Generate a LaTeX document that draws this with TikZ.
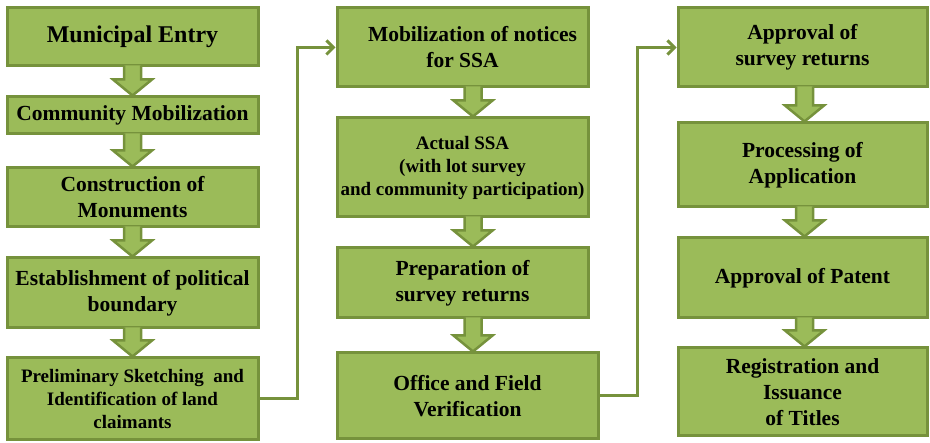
\documentclass[tikz,border=0pt]{standalone}
\usepackage{fontspec}
\setmainfont{Liberation Serif}
\usetikzlibrary{calc,arrows.meta}
\definecolor{fillg}{HTML}{9BBB59}
\definecolor{bord}{HTML}{76923C}
\tikzset{
  stagebox/.style={draw=bord, line width=3pt, fill=fillg, align=center, inner sep=2pt,
    font=\bfseries\fontsize{21.5}{26}\selectfont},
  smalltext/.style={font=\bfseries\fontsize{19}{23}\selectfont},
  bigtext/.style={font=\bfseries\fontsize{24}{28}\selectfont},
  blockarr/.style={draw=bord, line width=2.5pt, fill=fillg, line join=miter},
  conn/.style={draw=bord, line width=3pt, -{Straight Barb[length=7pt,width=14pt,line width=3pt]}}
}
\newcommand{\blockarrow}[3]{%
  \path let \p1=($(#1.south)+(#3,0)$), \p2=($(#2.north)+(#3,0)$) in
    coordinate (bta) at (\x1,\y1) coordinate (btb) at (\x1,\y2)
    [blockarr] (\x1-8.5pt,\y1+2pt) -- (\x1-8.5pt,\y2+16pt) -- (\x1-19.5pt,\y2+16pt) -- (\x1,\y2)
    -- (\x1+19.5pt,\y2+16pt) -- (\x1+8.5pt,\y2+16pt) -- (\x1+8.5pt,\y1+2pt);%
}
\begin{document}
\begin{tikzpicture}[x=1pt,y=-1pt]
\useasboundingbox (0,0) rectangle (930,443);
% column 1
\node[stagebox,bigtext, minimum width=251pt, minimum height=58pt] (m1) at (132.5,37) {Municipal Entry};
\node[stagebox, minimum width=251pt, minimum height=37pt] (m2) at (132.5,115.5) {Community Mobilization};
\node[stagebox, minimum width=251pt, minimum height=59pt] (m3) at (132.5,197.5) {Construction of\\Monuments};
\node[stagebox, minimum width=251pt, minimum height=70pt] (m4) at (132.5,293) {Establishment of political\\boundary};
\node[stagebox,smalltext, minimum width=251pt, minimum height=82pt] (m5) at (132.5,399) {Preliminary Sketching\ \ and\\Identification of land\\claimants};
% column 2
\node[stagebox, minimum width=251pt, minimum height=79pt] (n1) at (462.5,47.5) {\hspace*{20pt}Mobilization of notices\\for SSA};
\node[stagebox,smalltext, minimum width=251pt, minimum height=99pt] (n2) at (462.5,167.5) {Actual SSA\\(with lot survey\\and community participation)};
\node[stagebox, minimum width=251pt, minimum height=70pt] (n3) at (462.5,283) {Preparation of\\survey returns};
\node[stagebox, minimum width=261pt, minimum height=86pt] (n4) at (467.5,396) {Office and Field\\Verification};
% column 3
\node[stagebox, minimum width=249pt, minimum height=79pt] (p1) at (802.5,47.5) {Approval of\\survey returns};
\node[stagebox, minimum width=249pt, minimum height=84pt] (p2) at (802.5,165) {Processing of\\Application};
\node[stagebox, minimum width=249pt, minimum height=80pt] (p3) at (802.5,278) {Approval of Patent};
\node[stagebox, minimum width=249pt, minimum height=88pt] (p4) at (802.5,392) {Registration and\\Issuance\\of Titles};
% block arrows
\blockarrow{m1}{m2}{0}
\blockarrow{m2}{m3}{0}
\blockarrow{m3}{m4}{0}
\blockarrow{m4}{m5}{0}
\blockarrow{n1}{n2}{10.5}
\blockarrow{n2}{n3}{10.5}
\blockarrow{n3}{n4}{10.5}
\blockarrow{p1}{p2}{2}
\blockarrow{p2}{p3}{2}
\blockarrow{p3}{p4}{2}
% connectors
\draw[conn] (m5.east) -- ++(38,0) |- (n1.west);
\draw[conn] (n4.east) -- ++(38,0) |- (p1.west);
\end{tikzpicture}
\end{document}
